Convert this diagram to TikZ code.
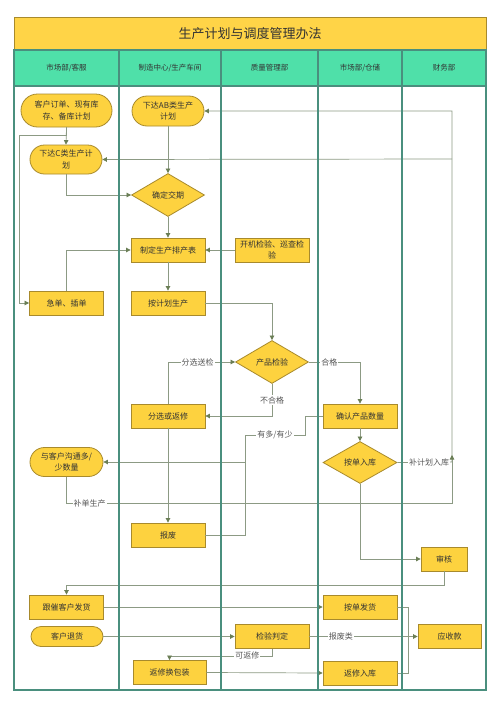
\documentclass[tikz,border=0pt]{standalone}
\usepackage{fontspec}
\setmainfont{Noto Sans CJK SC}
\usetikzlibrary{arrows.meta,shapes.geometric,shapes.misc}
\definecolor{nodefill}{HTML}{FDD23F}
\definecolor{nodeline}{HTML}{A88A2C}
\definecolor{titlefill}{HTML}{FFD447}
\definecolor{headfill}{HTML}{4FE0A9}
\definecolor{lanecol}{HTML}{4A8F7E}
\definecolor{conncol}{HTML}{8C9A84}
\definecolor{tipcol}{HTML}{6A7E55}
\definecolor{txtcol}{HTML}{333333}
\definecolor{lblcol}{HTML}{555555}
\tikzset{
  box/.style={rectangle, draw=nodeline, fill=nodefill, line width=0.8pt,
    minimum width=74pt, minimum height=24pt, inner sep=1pt, align=center,
    text=txtcol, font=\fontsize{8}{11.5}\selectfont},
  term/.style={box, rounded rectangle},
  dia/.style={box, diamond, minimum width=73pt, minimum height=43pt, inner sep=0pt},
  conn/.style={draw=conncol, line width=0.7pt, -{Triangle[length=4.5pt,width=4.5pt,color=tipcol]}},
  plain/.style={draw=conncol, line width=0.7pt},
  lbl/.style={fill=white, inner sep=1pt, text=lblcol, font=\fontsize{8}{10}\selectfont},
  head/.style={text=txtcol, font=\fontsize{7.5}{9}\selectfont}
}
\begin{document}
\begin{tikzpicture}[x=1pt,y=-1pt]
\fill[white] (0,0) rectangle (500,707);
\useasboundingbox (0,0) rectangle (500,707);
% title and headers
\fill[titlefill] (14,17) rectangle (486,50);
\draw[nodeline, line width=0.8pt] (14,17) rectangle (486,50);
\node[text=txtcol, font=\fontsize{13}{15}\selectfont] (title) at (250,34) {生产计划与调度管理办法};
\fill[headfill] (14,50) rectangle (486,86);
\draw[lanecol, line width=1.2pt] (14,86) -- (486,86);
\node[head] (h1) at (66.5,68) {市场部/客服};
\node[head] (h2) at (170,68) {制造中心/生产车间};
\node[head] (h3) at (269.5,68) {质量管理部};
\node[head] (h4) at (360,68) {市场部/仓储};
\node[head] (h5) at (444,68) {财务部};

% nodes
\node[term, minimum width=93pt, minimum height=33pt] (ord) at (66.5,110.5) {客户订单、现有库\\存、备库计划};
\node[term, minimum height=30pt] (ab) at (168,111) {下达AB类生产\\计划};
\node[term, minimum height=29pt] (c) at (66,159.5) {下达C类生产计\\划};
\node[dia] (conf) at (168,195) {确定交期};
\node[box] (sched) at (168,250) {制定生产排产表};
\node[box] (chk) at (272,250) {开机检验、巡查检\\验};
\node[box] (rush) at (66.5,303) {急单、插单};
\node[box] (plan) at (168,303) {按计划生产};
\node[dia] (qc) at (272,362) {产品检验};
\node[box] (sort) at (168,416) {分选或返修};
\node[box] (cnt) at (360,416) {确认产品数量};
\node[dia, minimum width=74pt, minimum height=42pt] (ins) at (360,462.5) {按单入库};
\node[term, minimum width=75pt, minimum height=29pt] (talk) at (66.5,462) {与客户沟通多/\\少数量};
\node[box] (scrap) at (168,535) {报废};
\node[box, minimum width=46pt] (aud) at (444,559) {审核};
\node[box] (follow) at (66.5,607) {跟催客户发货};
\node[box] (ship) at (360,607) {按单发货};
\node[term, minimum height=20pt] (ret) at (67,636.5) {客户退货};
\node[box] (judge) at (272,636.5) {检验判定};
\node[box, minimum width=63pt] (recv) at (449.5,636.5) {应收款};
\node[box, minimum width=73pt] (repack) at (169.5,672.5) {返修换包装};
\node[box] (repin) at (360,673) {返修入库};

\coordinate (j1) at (245,462);
\coordinate (j2) at (452,462);
\coordinate (j3) at (452,159);
\coordinate (j4) at (452,455);

% connectors
\draw[conn] (ord.south) -- (c.north);
\draw[conn] (ord.south) -- ++(0,8) -| (19,303) -- (rush.west);
\draw[conn] (c.south) |- (conf.west);
\draw[conn] (ab.south) -- (conf.north);
\draw[conn] (conf.south) -- (sched.north);
\draw[conn] (chk.west) -- (sched.east);
\draw[conn] (rush.north) |- (sched.west);
\draw[conn] (sched.south) -- (plan.north);
\draw[conn] (plan.east) -| (qc.north);
\draw[conn] (sort.north) |- node[lbl, pos=0.72] {分选送检} (qc.west);
\draw[conn] (qc.south) |- node[lbl, pos=0.25] {不合格} (sort.east);
\draw[conn] (qc.east) -| node[lbl, pos=0.2] {合格} (cnt.north);
\draw[plain] (cnt.west) -- (305,416) -- (305,435) -- node[lbl] {有多/有少} (245,435) -- (j1);
\draw[plain] (scrap.east) -| (j1);
\draw[conn] (j1) -- (talk.east);
\draw[conn] (sort.south) -- (scrap.north);
\draw[conn] (cnt.south) -- (ins.north);
\draw[conn] (ins.east) -- node[lbl, pos=0.58] {补计划入库} (j2) -- (452,111) -- (ab.east);
\draw[conn] (j3) -- (c.east);
\draw[conn] (talk.south) |- node[lbl, pos=0.53] {补单生产} (452,503) -- (j4);
\draw[conn] (ins.south) |- (aud.west);
\draw[conn] (aud.south) -- ++(0,14) -| (follow.north);
\draw[conn] (follow.east) -- (ship.west);
\draw[plain] (ship.east) -- ++(11,0) |- (repin.east);
\draw[conn] (ret.east) -- (judge.west);
\draw[conn] (judge.east) -- node[lbl, pos=0.29] {报废类} (recv.west);
\draw[conn] (judge.south) -- ++(0,7) -| node[lbl, pos=0.12] {可返修} (repack.north);
\draw[conn] (repack.east) -- (repin.west);

% lanes
\foreach \x in {119,221,318,402} \draw[lanecol, line width=1.2pt] (\x,50) -- (\x,690);
\draw[lanecol, line width=1.2pt] (14,50) rectangle (486,690);
\end{tikzpicture}
\end{document}
